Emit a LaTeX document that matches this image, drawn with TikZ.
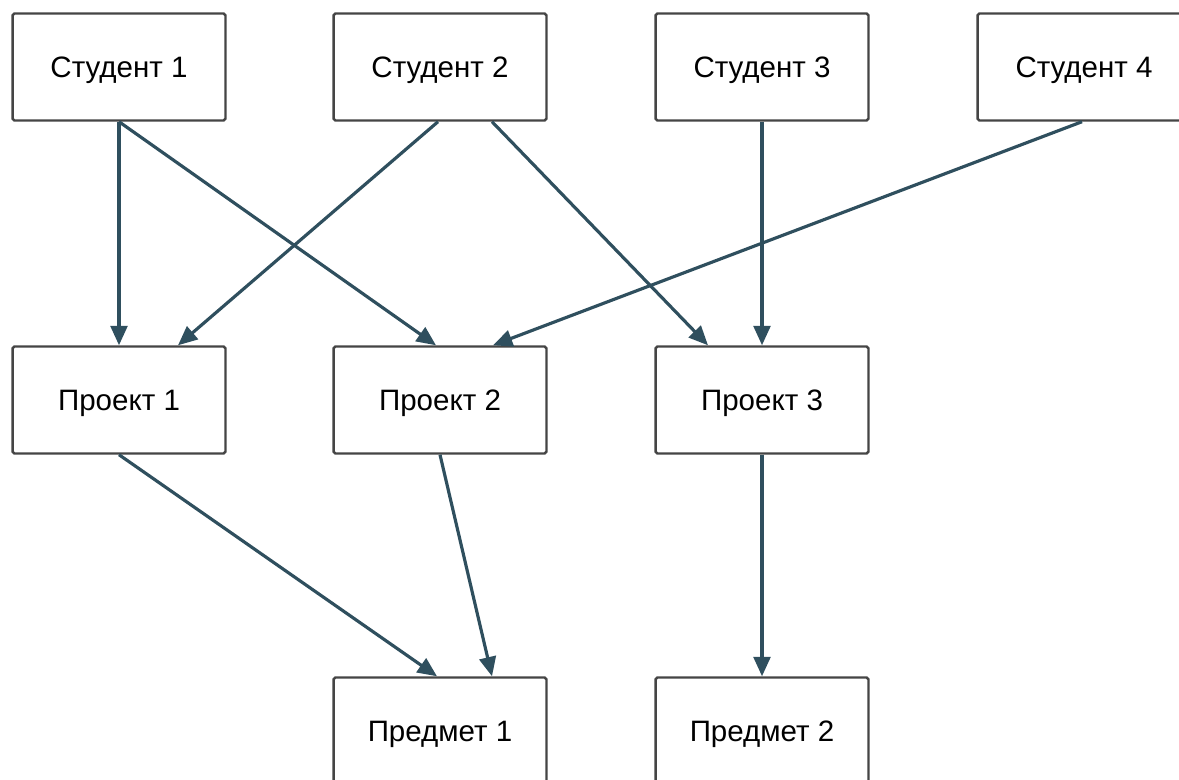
\documentclass[tikz,border=0pt]{standalone}
\usepackage{fontspec}
\setmainfont{Liberation Sans}
\usetikzlibrary{arrows.meta,calc}
\definecolor{edgecol}{HTML}{2F4F5E}
\definecolor{boxcol}{HTML}{454545}
\begin{document}
\begin{tikzpicture}[x=0.02cm,y=-0.02cm,
  entity/.style={draw=boxcol,line width=1.4pt,fill=white,rounded corners=1pt,
    minimum width=4.26cm,minimum height=2.14cm,inner sep=0pt,
    text height=11.6pt,text depth=0pt,
    font=\fontsize{16.8}{20}\selectfont},
  link/.style={draw=edgecol,line width=1.8pt,
    -{Triangle[length=11pt,width=9.5pt]}}]
\useasboundingbox (0,0) rectangle (1179,780);
% students
\node[entity] (s1) at (119,67) {Студент 1};
\node[entity] (s2) at (440,67) {Студент 2};
\node[entity] (s3) at (762,67) {Студент 3};
\node[entity] (s4) at (1084,67) {Студент 4};
% projects
\node[entity] (p1) at (119,400) {Проект 1};
\node[entity] (p2) at (440,400) {Проект 2};
\node[entity] (p3) at (762,400) {Проект 3};
% subjects
\node[entity] (m1) at (440,731) {Предмет 1};
\node[entity] (m2) at (762,731) {Предмет 2};
% student -> project
\draw[link] (s1.south) -- (p1.north);
\draw[link] (s1.south) -- ($(p2.north)+(-4,0)$);
\draw[link] ($(s2.south)+(-2,0)$) -- ($(p1.north)+(59,0)$);
\draw[link] ($(s2.south)+(52,0)$) -- ($(p3.north)+(-54,0)$);
\draw[link] (s3.south) -- (p3.north);
\draw[link] ($(s4.south)+(-2,0)$) -- ($(p2.north)+(53,0)$);
% project -> subject
\draw[link] (p1.south) -- ($(m1.north)+(-3,0)$);
\draw[link] (p2.south) -- ($(m1.north)+(52,0)$);
\draw[link] (p3.south) -- (m2.north);
\end{tikzpicture}
\end{document}
